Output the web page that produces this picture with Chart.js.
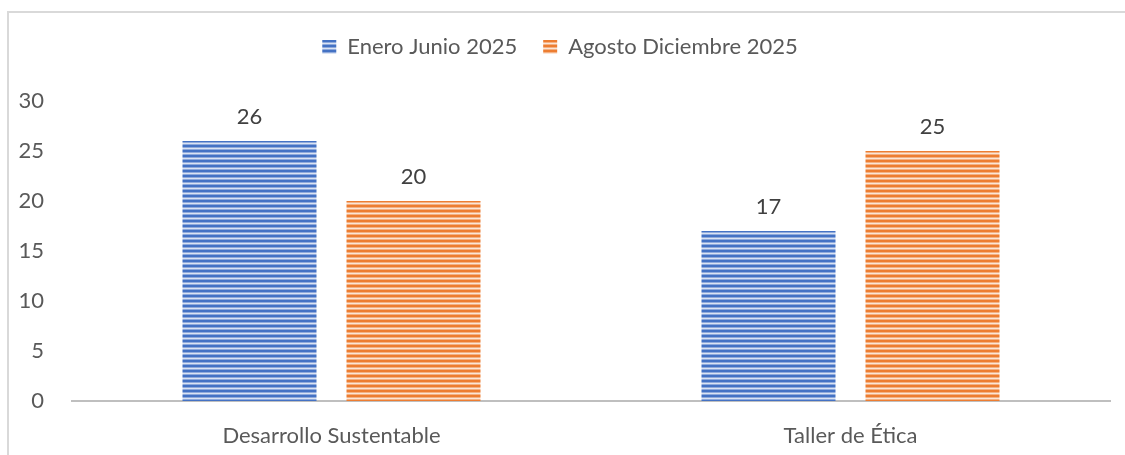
<!DOCTYPE html>
<html>
<head>
<meta charset="utf-8">
<script src="https://cdn.jsdelivr.net/npm/chart.js@4.4.1/dist/chart.umd.min.js"></script>
<style>
    html, body { margin: 0; padding: 0; background: #ffffff; }
    #wrap { position: relative; width: 1125px; height: 455px; overflow: hidden; }
    #marco {
        position: absolute; left: 7px; top: 11px; width: 1200px; height: 500px;
        border-left: 2px solid #d9d9d9; border-top: 2px solid #d9d9d9;
    }
    canvas { position: absolute; left: 0; top: 0; }
</style>
</head>
<body>
<div id="wrap">
    <div id="marco"></div>
    <canvas id="graficoCursos" width="1125" height="455"></canvas>
</div>
<script>
// datos de cursos por periodo
var cursos = ["Desarrollo Sustentable", "Taller de Ética"];
var periodos = ["Enero Junio 2025", "Agosto Diciembre 2025"];
var enero = [26, 17];
var agosto = [20, 25];
var ticksY = [0, 5, 10, 15, 20, 25, 30];

var fuente = "Lato, 'Open Sans', sans-serif";
var gris = "#595959";
var tam = 22;

// relleno rayado horizontal (oscuro / claro) para cada serie
function rayado(oscuro, medio, claro) {
    var c = document.createElement("canvas");
    c.width = 4;
    c.height = 5;
    var g = c.getContext("2d");
    var filas = [oscuro, oscuro, medio, claro, medio];
    for (var i = 0; i < filas.length; i++) {
        g.fillStyle = filas[i];
        g.fillRect(0, i, 4, 1);
    }
    return g.createPattern(c, "repeat");
}

var ctx = document.getElementById("graficoCursos").getContext("2d");
var azul = rayado("#4472c4", "#8faadc", "#dae3f3");
var naranja = rayado("#ed7d31", "#f4b183", "#fbe5d6");

// etiquetas de valor encima de cada barra
var etiquetasValor = {
    id: "etiquetasValor",
    afterDatasetsDraw: function (chart) {
        var c = chart.ctx;
        c.save();
        c.font = tam + "px " + fuente;
        c.fillStyle = "#404040";
        c.textAlign = "center";
        c.textBaseline = "middle";
        chart.data.datasets.forEach(function (ds, i) {
            chart.getDatasetMeta(i).data.forEach(function (barra, j) {
                c.fillText(ds.data[j], barra.x, barra.y - 24);
            });
        });
        c.restore();
    }
};

// alto fijo para la leyenda
var altoLeyenda = {
    id: "altoLeyenda",
    beforeInit: function (chart) {
        var fitOriginal = chart.legend.fit;
        chart.legend.fit = function () {
            fitOriginal.bind(chart.legend)();
            this.height = 91;
        };
    }
};

new Chart(ctx, {
    type: "bar",
    data: {
        labels: cursos,
        datasets: [{
            label: periodos[0],
            data: enero,
            backgroundColor: azul,
            barPercentage: 0.817,
            categoryPercentage: 0.632
        }, {
            label: periodos[1],
            data: agosto,
            backgroundColor: naranja,
            barPercentage: 0.817,
            categoryPercentage: 0.632
        }]
    },
    options: {
        responsive: false,
        animation: false,
        layout: { padding: { left: 10, right: 15, top: 10, bottom: 0 } },
        scales: {
            y: {
                min: 0,
                max: 30,
                afterBuildTicks: function (scale) {
                    scale.ticks = ticksY.map(function (v) { return { value: v }; });
                },
                afterFit: function (scale) { scale.width = 62; },
                grid: { display: false },
                border: { display: false },
                ticks: { color: gris, font: { size: tam, family: fuente }, padding: 20 }
            },
            x: {
                afterFit: function (scale) { scale.height = 54; },
                grid: { display: false },
                border: { display: true, color: "#bfbfbf", width: 2 },
                ticks: { color: gris, font: { size: tam, family: fuente }, padding: 14 }
            }
        },
        plugins: {
            legend: {
                position: "top",
                labels: {
                    boxWidth: 14,
                    boxHeight: 14,
                    padding: 26,
                    color: gris,
                    font: { size: tam, family: fuente }
                }
            },
            tooltip: { enabled: false }
        }
    },
    plugins: [etiquetasValor, altoLeyenda]
});
</script>
</body>
</html>
